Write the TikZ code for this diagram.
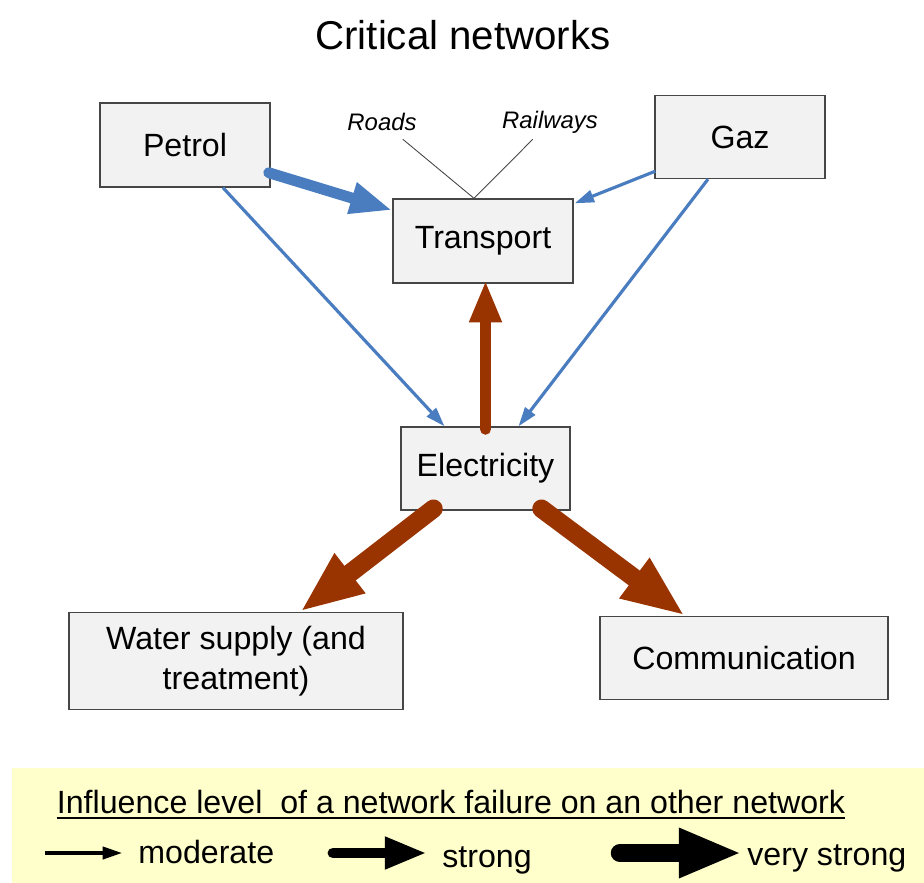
\documentclass[tikz,border=0pt]{standalone}
\usepackage{fontspec}
\setmainfont{Liberation Sans}
\usetikzlibrary{positioning, arrows.meta, calc}

\definecolor{linkblue}{RGB}{74,124,192}
\definecolor{linkbrown}{RGB}{153,51,0}
\definecolor{boxfill}{RGB}{242,242,242}
\definecolor{boxline}{RGB}{70,70,70}
\definecolor{legendbg}{RGB}{255,255,204}

\begin{document}
\begin{tikzpicture}[
    x=0.02cm, y=-0.02cm,
    net/.style={draw=boxline, fill=boxfill, line width=0.8pt, align=center,
        font=\fontsize{18.3}{22.5}\selectfont},
    label/.style={inner sep=0pt, font=\fontsize{18.3}{22}\selectfont},
    moderatearrow/.style={-{Triangle[length=11pt, width=7pt]}, line width=1.8pt},
    strongarrow/.style={-{Triangle[length=24pt, width=17pt]}, line width=6.2pt, line cap=round},
    verystrongarrow/.style={-{Triangle[length=36pt, width=26pt]}, line width=10.5pt, line cap=round}
]
\useasboundingbox (0,0) rectangle (924,883);

\node[font=\fontsize{22.9}{27}\selectfont] (title) at (463,35) {Critical networks};

\node[net, minimum width=3.4cm, minimum height=1.68cm] (petrol) at (185,145) {Petrol};
\node[net, minimum width=3.6cm, minimum height=1.68cm] (transport) at (483,241) {Transport};
\node[net, minimum width=3.4cm, minimum height=1.66cm] (gaz) at (740,137) {Gaz};
\node[net, minimum width=3.38cm, minimum height=1.66cm] (electricity) at (485.5,468.5) {Electricity};
\node[net, minimum width=6.68cm, minimum height=1.94cm] (water) at (236,661) {Water supply (and\\treatment)};
\node[net, minimum width=5.76cm, minimum height=1.66cm] (communication) at (744,658) {Communication};

\node[font=\fontsize{13.6}{16}\selectfont\itshape] (roads) at (382,122) {Roads};
\node[font=\fontsize{13.6}{16}\selectfont\itshape] (railways) at (550,122) {Railways};
\coordinate (hub) at ($(transport.north)+(-9,0)$);
\draw[boxline, line width=0.5pt, shorten <=2pt] (roads) -- (hub) -- (railways);

% links
\draw[linkblue, strongarrow] ($(petrol.south east)+(-2,-15)$) -- ($(transport.north west)+(0,12)$);
\draw[linkblue, moderatearrow] ($(gaz.south west)+(1,-8)$) -- ($(transport.north east)+(1,5)$);
\draw[linkblue, moderatearrow] ($(petrol.south)+(38,0)$) -- ($(electricity.north)+(-41,0)$);
\draw[linkblue, moderatearrow] ($(gaz.south)+(-32,0)$) -- ($(electricity.north)+(33,0)$);
\draw[linkbrown, strongarrow, shorten >=-2pt] ($(electricity.north)+(0,3)$) -- (electricity.north |- transport.south);
\draw[linkbrown, verystrongarrow] ($(electricity.south)+(-52,-2)$) -- ($(water.north)+(64,0)$);
\draw[linkbrown, verystrongarrow] ($(electricity.south)+(56,-2)$) -- ($(communication.north)+(-59,0)$);

% legend
\fill[legendbg] (12,768) rectangle (924,883);
\node[label, anchor=base] (legendtitle) at (451,813) {Influence level~ of a network failure on an other network};
\draw[line width=1.1pt] ($(legendtitle.base west)+(0,5)$) -- ($(legendtitle.base east)+(0,5)$);
\node[label, anchor=base west] (moderate) at (138,863) {moderate};
\node[label, anchor=base west] (strong) at (442,867) {strong};
\node[label, anchor=base west] (verystrong) at (747,865) {very strong};
\coordinate (m0) at (45,853);
\coordinate (s0) at (333,853);
\coordinate (v0) at (620,853);
\draw[black, moderatearrow] (m0) -- ($(m0 -| moderate.west)+(-16,0)$);
\draw[black, strongarrow] (s0) -- ($(s0 -| strong.west)+(-15,0)$);
\draw[black, verystrongarrow] (v0) -- ($(v0 -| verystrong.west)+(-5,0)$);
\end{tikzpicture}
\end{document}
